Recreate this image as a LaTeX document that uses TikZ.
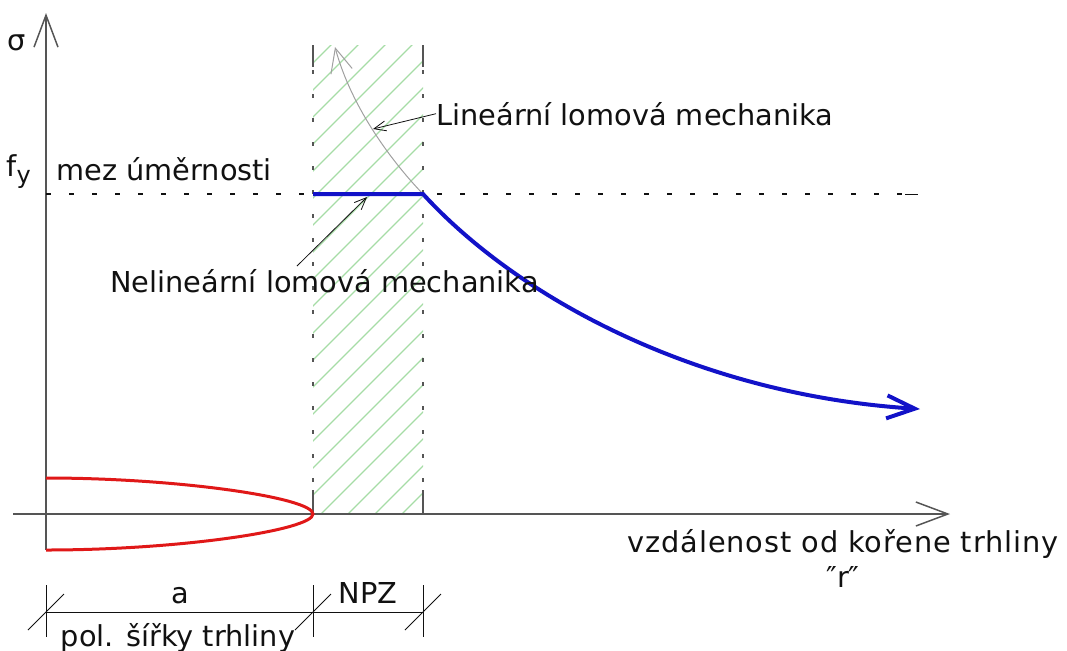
\documentclass[tikz,border=0pt]{standalone}
\usepackage{fontspec}
\setmainfont{DejaVu Sans}
\usepackage{xcolor}
\definecolor{Ink}{HTML}{111111}
\definecolor{Axis}{HTML}{555555}
\definecolor{Hatch}{HTML}{A6DCA6}
\definecolor{Crack}{HTML}{E01818}
\definecolor{Stress}{HTML}{1212C8}
\definecolor{Elastic}{HTML}{A0A0A0}
\usetikzlibrary{arrows.meta}
\tikzset{
  lbl/.style={text=Ink,font=\fontsize{14.4}{17}\selectfont,inner sep=0pt},
  axis/.style={draw=Axis,line width=.75pt,-{Straight Barb[length=16pt,width=12pt]}},
  zone/.style={draw=Axis,line width=.8pt},
  zonedash/.style={zone,dash pattern=on 2pt off 10pt},
  yieldline/.style={draw=Ink,line width=.6pt,dash pattern=on 2.5pt off 9pt},
  hatch/.style={draw=Hatch,line width=.6pt},
  crack/.style={draw=Crack,line width=1.5pt},
  stress/.style={draw=Stress,line width=2pt,-{Straight Barb[length=14pt,width=11.5pt]}},
  elastic/.style={draw=Elastic,line width=.5pt,-{Straight Barb[length=12pt,width=11pt]}},
  leader/.style={draw=Ink,line width=.4pt,-{Straight Barb[length=6pt,width=5pt]}},
  dim/.style={draw=Ink,line width=.5pt}
}
\begin{document}
\begin{tikzpicture}[x=0.5pt,y=-0.5pt]
\useasboundingbox (0,0) rectangle (1067,650);
% key points
\coordinate (O) at (46,514);
\coordinate (yBot) at (46,550);
\coordinate (yTop) at (46,13);
\coordinate (xLeft) at (13,514);
\coordinate (xEnd) at (950,514);
\coordinate (npzL) at (313,194);
\coordinate (yld) at (423,194);
\coordinate (rEnd) at (920,409);
\coordinate (elTop) at (335,47);
\coordinate (crTop) at (46,478);
\coordinate (crTip) at (313,514);
\coordinate (crBot) at (46,550);

% hatched plastic zone
\begin{scope}
  \clip (313,45) rectangle (423,514);
  \foreach \x in {-165,-138,...,430}
    \draw[hatch] (\x,514) -- ++(480,-480);
\end{scope}
\foreach \x in {313,423}{
  \draw[zone] (\x,45) -- (\x,67);
  \draw[zonedash] (\x,70) -- (\x,490);
  \draw[zone] (\x,490) -- (\x,514);
}

% axes
\draw[axis] (yBot) -- (yTop);
\draw[axis] (xLeft) -- (xEnd);
\draw[yieldline] (46,194) -- (905,194);
\draw[dim] (905,194) -- (918,194);

% crack
\draw[crack] (crTop) .. controls (180,478) and (313,498) .. (crTip)
  .. controls (313,530) and (180,550) .. (crBot);

% stress curves
\draw[elastic] (yld) .. controls (395,165) and (352,110) .. (elTop);
\draw[stress] (npzL) -- (yld) .. controls (520,300) and (700,395) .. (rEnd);

% labels
\node[lbl,anchor=base] (sig) at (17,50) {σ};
\node[lbl,anchor=base west] (fy) at (6,176) {f\raisebox{-.5ex}{\fontsize{12}{12}\selectfont y}};
\node[lbl,anchor=base west] (mez) at (56,180) {mez úměrnosti};
\node[lbl,anchor=base west] (lin) at (436,125) {Lineární lomová mechanika};
\node[lbl,anchor=base west] (nlin) at (110,292) {Nelineární lomová mechanika};
\node[lbl,anchor=base] (xlab) at (843,552) {\addfontfeature{LetterSpace=3}vzdálenost od kořene trhliny};
\node[lbl,anchor=base] (rlab) at (843,587) {″r″};

% leaders
\coordinate (linPt) at (373,129);
\coordinate (nlinTail) at (297,266);
\coordinate (nlinPt) at (367,197);
\draw[leader] (lin.west) -- (linPt);
\draw[leader] (nlinTail) -- (nlinPt);

% dimensions
\draw[dim] (46,612) -- (423,612);
\foreach \x in {46,313,423}{
  \draw[dim] (\x,585) -- (\x,637);
  \draw[dim] (\x-18,630) -- (\x+18,594);
}
\node[lbl,anchor=base] (a) at (180,603) {a};
\node[lbl,anchor=base] (npz) at (368,603) {NPZ};
\node[lbl,anchor=base] (pol) at (178,646) {pol. šířky trhliny};
\end{tikzpicture}
\end{document}
